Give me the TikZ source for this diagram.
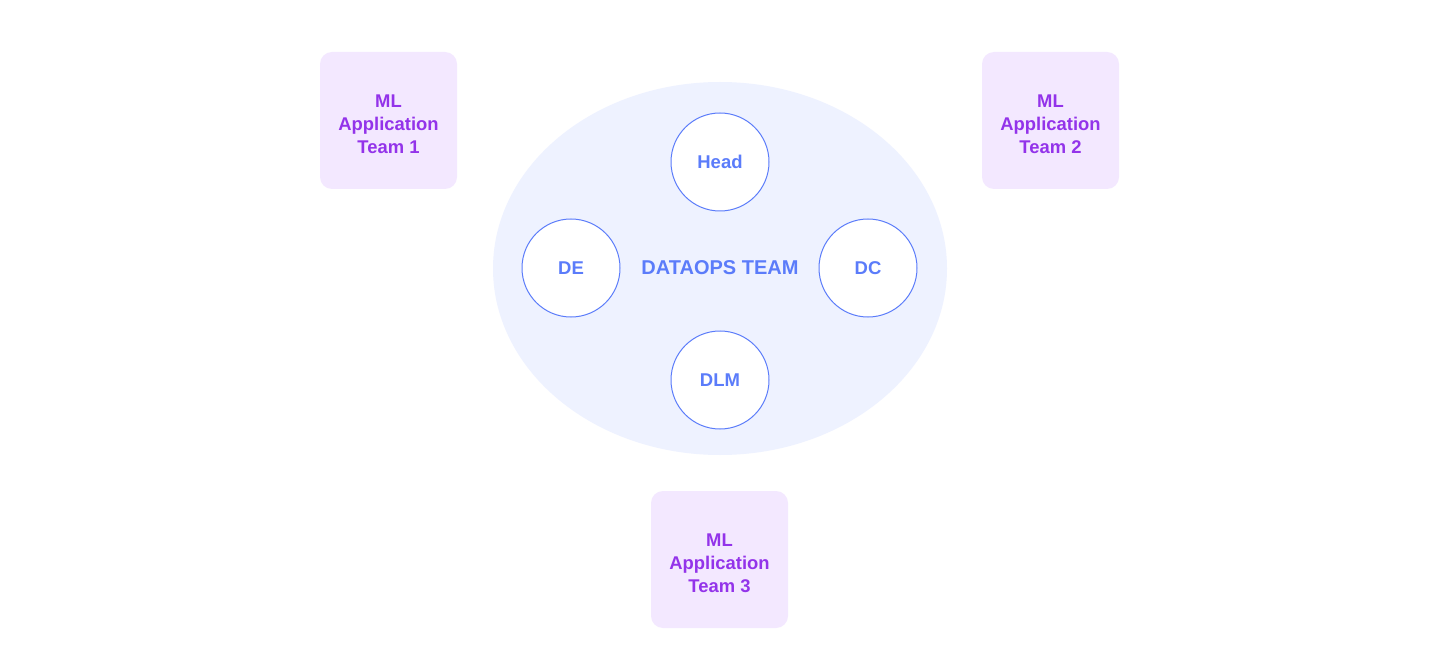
\documentclass[tikz,border=0pt]{standalone}
\usepackage{fontspec}
\setmainfont{Liberation Sans}
\usepackage{tikz}
\usetikzlibrary{calc}
\definecolor{teamfill}{HTML}{F3E8FF}
\definecolor{teamtext}{HTML}{9333EA}
\definecolor{opsfill}{HTML}{EEF2FF}
\definecolor{opsblue}{HTML}{5B7CFA}
\tikzset{
  teambox/.style={rectangle, rounded corners=12pt, fill=teamfill, minimum width=137pt, minimum height=137pt, inner sep=0pt},
  teamlabel/.style={inner sep=0pt, text=teamtext, font=\fontsize{18.4}{23}\selectfont\bfseries, align=center},
  rolecircle/.style={circle, draw=opsblue, line width=1pt, fill=white, minimum size=98pt, inner sep=0pt, text=opsblue, font=\fontsize{18.5}{20}\selectfont\bfseries}
}
\begin{document}
\begin{tikzpicture}[x=1pt,y=-1pt]
\useasboundingbox[fill=white] (0,0) rectangle (1440,660);
% Drawing application teams
\node[teambox] (team1) at (388.5,120.5) {};
\node[teamlabel] (team1text) at ([yshift=-4pt]team1.center) {ML\\Application\\Team 1};
\node[teambox] (team2) at (1050.5,120.5) {};
\node[teamlabel] (team2text) at ([yshift=-4pt]team2.center) {ML\\Application\\Team 2};
\node[teambox] (team3) at (719.5,559.5) {};
\node[teamlabel] (team3text) at ([yshift=-4pt]team3.center) {ML\\Application\\Team 3};
% Drawing the dataops team
\fill[opsfill] (720,268.5) ellipse (227pt and 186.5pt);
\node[text=opsblue, font=\fontsize{20}{22}\selectfont\bfseries] (dataops) at (720,268) {DATAOPS TEAM};
% Drawing roles
\node[rolecircle] (head) at (720,162) {Head};
\node[rolecircle] (de) at (571,268) {DE};
\node[rolecircle] (dc) at (868,268) {DC};
\node[rolecircle] (dlm) at (720,380) {DLM};
\end{tikzpicture}
\end{document}
